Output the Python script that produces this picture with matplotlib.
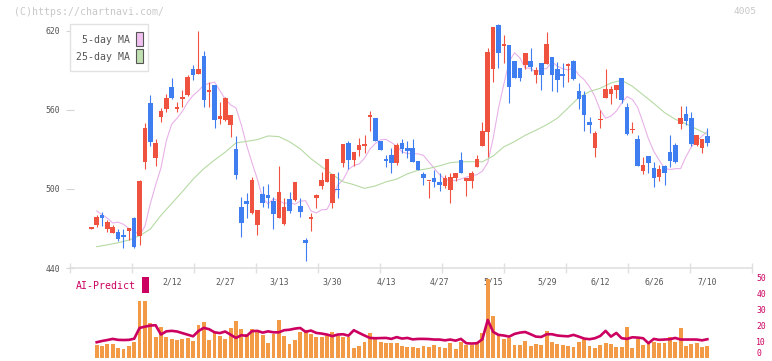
import numpy as np
import matplotlib
matplotlib.use("Agg")
import matplotlib.pyplot as plt
from matplotlib.patches import Rectangle
from matplotlib.transforms import Affine2D

plt.rcParams['font.family'] = ['DejaVu Sans Mono']

# ---------------------------------------------------------------------------
# Data
# ---------------------------------------------------------------------------
opens = [469.8, 472.6, 480.2, 469.6, 466.8, 467.3, 464.8, 468.1, 478.0, 464.3,
         520.7, 565.6, 523.8, 554.9, 560.5, 577.5, 561.0, 568.6, 571.4, 591.1,
         587.3, 601.0, 573.9, 579.0, 553.4, 552.4, 548.6, 530.4, 486.1, 490.9,
         482.0, 472.9, 496.2, 495.4, 490.9, 478.2, 473.4, 492.1, 491.6, 487.1,
         461.2, 476.9, 492.9, 502.5, 505.6, 489.6, 500.0, 520.0, 534.9, 522.3,
         529.9, 532.9, 555.0, 553.9, 536.7, 522.5, 525.8, 519.5, 534.9, 531.1,
         531.1, 521.2, 511.4, 505.8, 508.3, 505.3, 502.5, 499.2, 508.3, 522.0,
         506.3, 506.3, 517.0, 532.9, 543.5, 591.1, 624.6, 608.6, 609.4, 597.2,
         592.1, 594.2, 597.5, 586.3, 595.4, 594.7, 600.5, 591.1, 587.3, 593.7,
         597.2, 574.4, 571.1, 550.9, 530.9, 552.4, 569.4, 572.4, 575.4, 584.0,
         562.0, 544.5, 537.7, 513.9, 525.0, 515.7, 509.4, 517.5, 528.1, 533.1,
         549.4, 557.0, 553.9, 533.4, 531.4, 540.6]
highs = [470.6, 480.2, 482.3, 476.4, 472.9, 469.9, 469.3, 470.3, 478.5, 506.5,
         549.9, 571.4, 538.0, 561.3, 572.1, 584.0, 566.3, 575.2, 586.6, 594.2,
         620.0, 605.1, 581.5, 579.0, 565.8, 569.5, 556.2, 540.2, 494.2, 497.0,
         509.4, 484.0, 502.3, 503.8, 493.6, 517.7, 492.9, 497.5, 505.3, 493.4,
         462.5, 482.0, 496.4, 512.6, 522.5, 511.4, 513.1, 534.2, 536.7, 528.1,
         538.5, 541.0, 559.5, 553.9, 536.7, 525.8, 531.1, 534.7, 538.0, 536.7,
         537.7, 521.2, 513.1, 506.3, 514.4, 511.9, 510.4, 511.9, 512.1, 528.3,
         508.6, 513.9, 525.8, 551.1, 606.8, 623.3, 625.3, 617.0, 609.4, 597.2,
         592.1, 603.0, 606.8, 592.9, 595.4, 619.0, 600.5, 596.2, 595.4, 595.4,
         598.0, 580.7, 574.4, 555.0, 544.0, 560.0, 591.1, 578.5, 578.7, 584.0,
         565.0, 551.1, 541.0, 524.5, 525.0, 520.7, 518.0, 518.2, 541.0, 534.7,
         563.0, 563.0, 558.7, 541.0, 538.0, 546.1]
lows = [469.8, 470.8, 471.9, 467.1, 466.3, 460.7, 455.2, 461.2, 455.5, 457.5,
        515.2, 532.6, 517.7, 550.6, 558.7, 568.1, 558.7, 562.5, 570.6, 582.8,
        587.3, 562.5, 562.0, 546.6, 549.4, 551.9, 539.7, 507.3, 463.8, 478.2,
        481.0, 465.3, 486.6, 485.3, 469.6, 478.2, 472.6, 481.5, 490.8, 478.5,
        445.5, 468.3, 485.8, 500.2, 505.0, 485.8, 492.9, 516.9, 515.2, 517.7,
        525.3, 527.1, 544.3, 536.7, 529.6, 516.9, 512.4, 518.0, 527.6, 523.3,
        520.7, 514.4, 503.3, 493.4, 501.8, 498.7, 500.5, 489.6, 506.3, 512.4,
        494.9, 500.5, 517.0, 532.9, 524.5, 581.5, 591.6, 595.4, 565.6, 584.0,
        582.0, 590.9, 589.9, 580.7, 575.2, 594.7, 574.6, 573.9, 577.7, 581.5,
        582.8, 560.5, 544.3, 542.3, 524.5, 546.1, 569.4, 564.3, 569.4, 565.0,
        541.0, 542.3, 517.7, 511.1, 511.9, 501.8, 506.3, 503.0, 517.0, 519.5,
        545.6, 548.6, 532.6, 532.6, 527.6, 532.6]
closes = [470.6, 479.0, 478.2, 475.2, 471.1, 462.3, 463.8, 470.1, 456.2, 506.1,
          546.6, 536.0, 534.9, 559.5, 569.1, 569.1, 562.3, 569.9, 585.3, 586.6,
          591.1, 567.6, 575.2, 552.4, 555.4, 568.9, 556.2, 510.6, 474.4, 488.8,
          506.8, 484.0, 489.6, 493.4, 481.0, 497.7, 486.3, 483.5, 505.3, 482.8,
          458.7, 478.7, 495.4, 506.8, 522.5, 511.4, 499.0, 534.2, 522.3, 528.1,
          533.4, 533.4, 555.4, 536.7, 529.6, 521.5, 520.0, 533.4, 530.6, 528.6,
          520.7, 514.4, 508.6, 506.3, 505.0, 503.3, 508.3, 509.1, 512.1, 512.4,
          508.6, 512.1, 522.8, 544.0, 603.8, 623.3, 603.0, 609.9, 577.7, 584.0,
          584.5, 603.0, 592.9, 590.4, 586.6, 610.1, 586.6, 582.8, 586.1, 594.2,
          583.5, 568.6, 556.2, 548.9, 542.3, 553.1, 575.9, 575.9, 578.7, 567.6,
          541.8, 545.3, 517.7, 518.2, 520.0, 508.3, 514.9, 512.4, 521.5, 520.3,
          553.6, 551.9, 534.2, 541.0, 538.0, 535.0]

# 5-day MA, from the 2nd candle on
ma5 = [483.3, 480.5, 477.8, 474.2, 474.8, 473.2, 470.1, 468.5, 464.7, 471.7,
       488.6, 503.0, 516.0, 536.6, 549.2, 553.7, 559.0, 566.0, 571.1, 574.6,
       579.0, 580.1, 581.2, 574.6, 568.3, 563.9, 561.6, 548.7, 533.1, 519.8,
       507.4, 492.9, 488.7, 492.5, 491.0, 489.1, 489.6, 488.4, 490.8, 491.1,
       483.3, 481.8, 484.2, 484.5, 492.4, 503.0, 507.0, 514.8, 517.9, 519.0,
       523.4, 530.3, 534.5, 537.4, 537.7, 535.3, 532.6, 528.2, 527.0, 526.8,
       526.7, 525.5, 520.6, 515.7, 511.0, 507.5, 506.3, 506.4, 507.6, 509.0,
       510.1, 510.9, 513.6, 520.0, 538.3, 561.2, 579.4, 596.8, 603.5, 599.6,
       591.8, 591.8, 588.4, 591.0, 591.5, 596.6, 593.3, 591.3, 590.4, 592.0,
       586.6, 583.0, 577.7, 570.3, 559.9, 553.8, 555.3, 559.2, 565.2, 570.2,
       568.0, 561.9, 550.2, 538.1, 528.6, 521.9, 515.8, 514.8, 515.4, 515.5,
       524.5, 531.9, 536.3, 540.2, 543.7]

# 25-day MA, read every second candle (1, 3, 5, ...)
ma25 = [456.2, 457.6, 459.2, 461.2, 464.5, 469.5, 480.0, 489.0, 498.0, 507.5,
        515.5, 522.0, 528.0, 535.0, 536.2, 537.5, 540.3, 539.8, 535.9, 530.5,
        523.0, 517.0, 511.0, 505.5, 503.3, 500.5, 502.3, 505.4, 507.5, 511.5,
        514.2, 515.6, 517.6, 520.0, 520.7, 520.7, 520.7, 525.0, 532.0, 536.0,
        540.8, 544.6, 548.8, 553.8, 561.5, 569.5, 574.0, 576.5, 580.5, 582.6,
        578.0, 571.5, 565.0, 558.0, 553.0, 549.5, 545.5, 541.5]

# lower panel, from the 2nd candle on
volume = [8.1, 7.5, 8.7, 8.7, 6.1, 5.3, 7.3, 10.1, 35.5, 35.5,
          21.8, 13.2, 19.3, 13.2, 11.8, 11.4, 12.0, 12.7, 10.4, 20.5,
          22.5, 11.2, 15.8, 13.7, 11.9, 18.7, 23.1, 18.1, 15.0, 18.1,
          17.5, 14.4, 9.4, 15.0, 23.7, 13.7, 8.7, 11.2, 16.2, 17.5,
          15.0, 13.1, 13.1, 14.4, 16.2, 13.7, 13.1, 13.1, 6.2, 7.5,
          10.0, 15.6, 11.9, 10.0, 9.4, 9.4, 9.4, 7.5, 6.9, 6.9,
          6.2, 7.5, 6.9, 8.1, 6.9, 6.2, 9.4, 5.6, 10.0, 8.1,
          8.1, 10.0, 15.6, 49.4, 26.2, 14.4, 11.9, 12.5, 8.1, 8.1,
          10.6, 7.5, 8.7, 8.1, 16.9, 10.0, 8.7, 8.1, 7.5, 6.9,
          10.0, 11.9, 7.5, 6.2, 8.1, 9.4, 8.7, 6.9, 6.9, 19.4,
          6.2, 11.9, 8.1, 9.4, 10.0, 9.4, 9.4, 13.1, 10.0, 18.7,
          7.5, 8.7, 9.4, 6.9, 7.5]
ai_predict = [9.8, 10.6, 11.2, 11.9, 11.3, 11.2, 11.3, 12.0, 18.7, 19.5,
              20.2, 20.4, 14.6, 16.6, 16.9, 16.5, 15.5, 14.5, 13.5, 16.8,
              18.8, 17.9, 16.0, 15.5, 16.5, 14.5, 12.5, 14.2, 13.8, 16.7,
              16.9, 15.8, 16.6, 16.0, 16.0, 17.3, 17.6, 18.3, 18.7, 16.3,
              17.1, 15.6, 15.2, 14.6, 13.6, 14.6, 14.8, 13.9, 17.3, 15.6,
              14.0, 12.5, 12.3, 12.4, 12.5, 11.9, 13.0, 12.1, 12.5, 11.6,
              11.9, 11.9, 11.8, 11.5, 11.5, 11.0, 11.5, 10.8, 11.9, 9.2,
              9.0, 9.2, 11.7, 23.7, 16.3, 14.4, 14.0, 13.3, 15.0, 15.8,
              16.2, 14.8, 13.3, 13.1, 14.8, 14.8, 14.0, 13.7, 13.5, 14.4,
              13.3, 12.1, 11.7, 12.3, 13.7, 16.9, 13.3, 15.6, 12.3, 11.9,
              12.9, 12.7, 12.3, 9.2, 11.9, 11.3, 11.5, 11.7, 12.5, 11.5,
              11.5, 11.5, 11.5, 11.0, 11.7]

date_labels = ["2/12", "2/27", "3/13", "3/30", "4/13", "4/27",
               "5/15", "5/29", "6/12", "6/26", "7/10"]
price_ticks = [440, 500, 560, 620]
vol_ticks = [0, 10, 20, 30, 40, 50]

# ---------------------------------------------------------------------------
# Style
# ---------------------------------------------------------------------------
RED = '#ef5340'
BLUE = '#3f7ef0'
PINK = '#e8b2e8'
GREEN = '#b6daa4'
ORANGE = '#f29a46'
CRIMSON = '#cc0060'
GRID = '#e0e0e0'
TXT = '#555555'

W, H = 772, 361
fig = plt.figure(figsize=(W / 100, H / 100), dpi=100)
px = Affine2D().scale(1 / W, -1 / H).translate(0, 1) + fig.transFigure


def rect(x0, y0, x1, y1):
    """pixel box (top-left origin) -> figure axes rect"""
    return [x0 / W, 1 - y1 / H, (x1 - x0) / W, (y1 - y0) / H]


XLIM = (-3.98, 123.33)

# ---------------------------------------------------------------------------
# Price panel
# ---------------------------------------------------------------------------
ax = fig.add_axes(rect(70, 20, 752, 268))
o = np.array(opens)
c = np.array(closes)
idx = np.arange(len(c))
cols = np.where(c >= o, RED, BLUE)

ax.plot(np.arange(1, len(ma5) + 1), ma5, color=PINK, lw=0.8, zorder=2)
ax.plot(np.arange(1, 2 * len(ma25), 2), ma25, color=GREEN, lw=0.8, zorder=2)
ax.vlines(idx, lows, highs, colors=cols, lw=0.8, zorder=3)
ax.bar(idx, np.maximum(np.abs(c - o), 1.0), bottom=np.minimum(o, c),
       width=0.85, color=cols, linewidth=0, zorder=4)

ax.set_xlim(*XLIM)
ax.set_ylim(440, 628.35)
for s in ['top', 'right', 'left']:
    ax.spines[s].set_visible(False)
ax.spines['bottom'].set_color(GRID)
ax.spines['bottom'].set_linewidth(1.2)

ax.set_yticks(price_ticks)
ax.tick_params(axis='y', direction='inout', length=5.5, width=0.8, color='#d4d4d4',
               labelsize=5.9, labelcolor=TXT, pad=4.5)
ax.set_xticks(np.linspace(XLIM[0], XLIM[1], 12))
ax.tick_params(axis='x', which='major', direction='inout', length=6.5, width=1,
               color=GRID, labelbottom=False)
ax.set_xticks(np.arange(15, 116, 10), minor=True)
ax.set_xticklabels(date_labels, minor=True)
ax.tick_params(axis='x', which='minor', length=0, pad=7, labelsize=5.9, labelcolor=TXT)

# ---------------------------------------------------------------------------
# AI-Predict panel
# ---------------------------------------------------------------------------
vax = fig.add_axes(rect(70, 277.7, 752, 358))
vi = np.arange(1, len(volume) + 1)
vax.bar(vi, volume, width=0.72, color=ORANGE, linewidth=0)
vax.plot(vi, ai_predict, color=CRIMSON, lw=1.9)
vax.set_xlim(*XLIM)
vax.set_ylim(0, 50)
vax.set_xticks([])
vax.set_yticks(vol_ticks)
vax.yaxis.tick_right()
vax.tick_params(axis='y', length=0, labelsize=5.9, labelcolor=CRIMSON, pad=3)
# bottom label sits on the figure edge; keep it inside
vax.get_yticklabels()[0].set_verticalalignment('bottom')
for s in vax.spines.values():
    s.set_visible(False)
vax.patch.set_alpha(0)

# ---------------------------------------------------------------------------
# Texts, legend
# ---------------------------------------------------------------------------
fig.text(14, 12, "(C)https://chartnavi.com/", transform=px, color='#c8c8c8',
         fontsize=7.1, ha='left', va='center')
fig.text(757, 12, "4005", transform=px, color='#c8c8c8', fontsize=6.8,
         ha='right', va='center')

fig.text(75.5, 286, "AI-Predict", transform=px, color=CRIMSON, fontsize=7.1,
         ha='left', va='center')
fig.add_artist(Rectangle((142.3, 276.7), 6.7, 16, transform=px,
                         facecolor=CRIMSON, edgecolor='none'))

fig.add_artist(Rectangle((70.3, 24), 78, 47, transform=px, facecolor='white',
                         edgecolor='#e2e2e2', lw=1))
fig.text(129.5, 40, "5-day MA", transform=px, color=TXT, fontsize=7.1,
         ha='right', va='center')
fig.text(129.5, 57.3, "25-day MA", transform=px, color=TXT, fontsize=7.1,
         ha='right', va='center')
fig.add_artist(Rectangle((136.3, 31.7), 6.4, 14.5, transform=px,
                         facecolor='#f0c0f0', edgecolor='#555555', lw=0.8))
fig.add_artist(Rectangle((136.3, 48.7), 6.4, 14.5, transform=px,
                         facecolor='#c0e0b0', edgecolor='#555555', lw=0.8))

fig.savefig("out.png", dpi=100)
